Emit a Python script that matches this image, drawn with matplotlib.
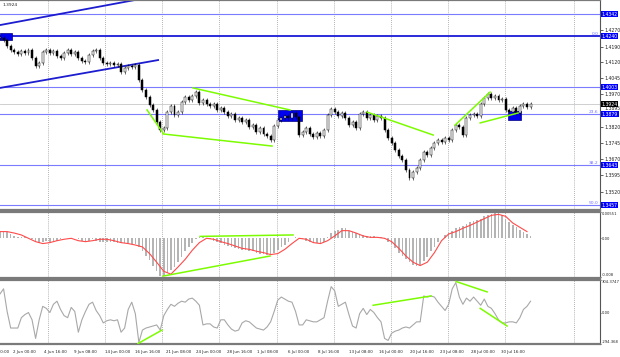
import matplotlib
matplotlib.use("Agg")
import matplotlib.pyplot as plt
import matplotlib.transforms as mtransforms
from matplotlib.patches import Rectangle
import numpy as np

# H4 closes, one candle every 2 bars
closes = [1.4231, 1.4222, 1.4194, 1.4176, 1.4166, 1.4157, 1.4171, 1.4162, 1.4176, 1.4138,
          1.4101, 1.4115, 1.4166, 1.4176, 1.4162, 1.4171, 1.4148, 1.4138, 1.4162, 1.4176,
          1.4157, 1.4166, 1.4138, 1.4125, 1.4120, 1.4152, 1.4171, 1.4176, 1.4138, 1.4115,
          1.4111, 1.4115, 1.4106, 1.4111, 1.4074, 1.4092, 1.4101, 1.4097, 1.4106, 1.4037,
          1.3990, 1.3958, 1.3921, 1.3898, 1.3842, 1.3805, 1.3814, 1.3888, 1.3916, 1.3875,
          1.3888, 1.3935, 1.3958, 1.3944, 1.3962, 1.3981, 1.3930, 1.3944, 1.3925, 1.3916,
          1.3925, 1.3898, 1.3907, 1.3888, 1.3870, 1.3879, 1.3851, 1.3860, 1.3842, 1.3851,
          1.3819, 1.3828, 1.3796, 1.3814, 1.3787, 1.3777, 1.3759, 1.3824, 1.3851, 1.3860,
          1.3870, 1.3860, 1.3884, 1.3865, 1.3782, 1.3796, 1.3814, 1.3787, 1.3773, 1.3791,
          1.3777, 1.3805, 1.3875, 1.3902, 1.3888, 1.3870, 1.3884, 1.3860, 1.3828, 1.3842,
          1.3814, 1.3879, 1.3888, 1.3860, 1.3875, 1.3851, 1.3870, 1.3860, 1.3805, 1.3768,
          1.3745, 1.3712, 1.3685, 1.3666, 1.3620, 1.3583, 1.3611, 1.3629, 1.3666, 1.3703,
          1.3689, 1.3722, 1.3745, 1.3759, 1.3750, 1.3768, 1.3759, 1.3805, 1.3828, 1.3819,
          1.3782, 1.3860, 1.3875, 1.3879, 1.3870, 1.3925, 1.3953, 1.3972, 1.3953, 1.3962,
          1.3944, 1.3949, 1.3898, 1.3888, 1.3907, 1.3884, 1.3916, 1.3925, 1.3911, 1.3924]

macd_hist = [0.0014, 0.0016, 0.0014, 0.0009, 0.0005, 0.0002, 0.0002, 0.0002, 0.0, -0.0002,
             -0.0007, -0.0009, -0.0007, -0.0005, -0.0007, -0.0007, -0.0005, -0.0002, 0.0, 0.0,
             0.0, 0.0, -0.0002, -0.0005, -0.0007, -0.0005, -0.0002, -0.0005, -0.0007, -0.0007,
             -0.0007, -0.0007, -0.0007, -0.0009, -0.0009, -0.0009, -0.0009, -0.0011, -0.0011, -0.0018,
             -0.0027, -0.0037, -0.0046, -0.0057, -0.0069, -0.0078, -0.0078, -0.0073, -0.0066, -0.0060,
             -0.0050, -0.0039, -0.0027, -0.0018, -0.0009, -0.0002, 0.0002, 0.0002, 0.0, -0.0002,
             -0.0005, -0.0007, -0.0009, -0.0014, -0.0016, -0.0018, -0.0021, -0.0023, -0.0025, -0.0025,
             -0.0027, -0.0027, -0.0030, -0.0032, -0.0032, -0.0034, -0.0034, -0.0030, -0.0025, -0.0018,
             -0.0014, -0.0007, 0.0, 0.0002, 0.0, -0.0002, -0.0005, -0.0007, -0.0009, -0.0009,
             -0.0009, -0.0007, 0.0002, 0.0011, 0.0016, 0.0018, 0.0021, 0.0021, 0.0016, 0.0014,
             0.0011, 0.0009, 0.0007, 0.0005, 0.0005, 0.0005, 0.0002, 0.0002, -0.0002, -0.0007,
             -0.0011, -0.0021, -0.0030, -0.0037, -0.0044, -0.0050, -0.0055, -0.0057, -0.0055, -0.0048,
             -0.0039, -0.0027, -0.0018, -0.0007, 0.0, 0.0007, 0.0011, 0.0016, 0.0021, 0.0023,
             0.0025, 0.0030, 0.0034, 0.0037, 0.0039, 0.0041, 0.0046, 0.0048, 0.0050, 0.0053,
             0.0053, 0.0048, 0.0041, 0.0034, 0.0027, 0.0023, 0.0018, 0.0014, 0.0009, 0.0005]

# signal line, one point every 4 bars
macd_signal = [0.0014, 0.0014, 0.0011, 0.0007, 0.0, -0.0007, -0.0011, -0.0009, -0.0005, -0.0002,
               0.0, -0.0005, -0.0007, -0.0005, -0.0002, -0.0002, -0.0005, -0.0009, -0.0011, -0.0014,
               -0.0018, -0.0032, -0.0050, -0.0069, -0.0075, -0.0060, -0.0044, -0.0025, -0.0009, 0.0,
               -0.0002, -0.0007, -0.0011, -0.0016, -0.0021, -0.0023, -0.0027, -0.0030, -0.0034, -0.0032,
               -0.0023, -0.0011, 0.0, -0.0002, -0.0009, -0.0011, -0.0005, 0.0005, 0.0016, 0.0016,
               0.0011, 0.0005, 0.0002, 0.0002, 0.0, -0.0007, -0.0021, -0.0037, -0.0050, -0.0057,
               -0.0050, -0.0030, -0.0005, 0.0009, 0.0014, 0.0021, 0.0027, 0.0034, 0.0041, 0.0048,
               0.0050, 0.0046, 0.0032, 0.0023, 0.0014]

cci = [174, 222, 10, -145, -145, -145, -48, -19, 0, -68,
       -242, -68, 58, 39, 0, 77, 106, 29, -29, -48,
       48, 10, -184, -68, 10, 77, 97, 19, -29, -97,
       -77, -68, -77, -68, -184, -145, 29, 97, -10, -280,
       -164, -145, -135, -126, -116, -164, -29, 29, 77, 58,
       87, 106, 97, 126, 135, 106, 68, -116, -106, -106,
       -135, -145, -68, -68, -116, -155, -174, -164, -97, -77,
       -87, -116, -145, -155, -164, -135, -87, 10, 116, 145,
       126, 106, 97, 10, -116, -116, -68, -77, -87, -87,
       -68, -48, 106, 242, 203, 58, 77, 97, -19, -126,
       -145, -10, 39, -19, 29, 0, -48, -87, -242, -261,
       -193, -174, -164, -145, -135, -145, -116, -87, -87, 155,
       145, 155, 145, 97, 58, 19, 77, 222, 280, 145,
       77, 135, 106, 145, 106, 68, 126, 58, 39, -10,
       -68, -97, -97, -87, -87, -97, -48, 29, 58, 106]

price_ticks = [1.4270, 1.4190, 1.4120, 1.4045, 1.3970, 1.3895, 1.3820, 1.3745, 1.3670, 1.3595, 1.3520]
blue_levels = [1.4342, 1.4240, 1.4003, 1.3879, 1.3643, 1.3457]
fib_levels = {1.4240: "0.0", 1.3879: "23.6", 1.3643: "38.2", 1.3457: "50.0"}
last_price = 1.3924

date_labels = ["28 May 00:00", "2 Jun 00:00", "4 Jun 16:00", "9 Jun 08:00", "14 Jun 00:00",
               "16 Jun 16:00", "21 Jun 08:00", "24 Jun 00:00", "28 Jun 16:00", "1 Jul 08:00",
               "6 Jul 00:00", "8 Jul 16:00", "13 Jul 08:00", "16 Jul 00:00", "20 Jul 16:00",
               "23 Jul 08:00", "28 Jul 00:00", "30 Jul 16:00"]
grid_bars = [27, 59, 91, 123, 155.5, 187.5, 219.5, 251.5, 283.5, 322.5]

# drawn objects (bar index, value)
channel_lines = [((0, 1.4291), (75.8, 1.4407)), ((0, 1.4000), (88.8, 1.4129))]
green_main = [((82.6, 1.3898), (91.6, 1.3791)), ((91.6, 1.3787), (152.8, 1.3731)),
              ((108.4, 1.4000), (162.9, 1.3898)), ((206.2, 1.3888), (243.3, 1.3782)),
              ((255.6, 1.3828), (275.3, 1.3981)), ((269.7, 1.3838), (291.0, 1.3884))]
blue_boxes = [((0, 1.4222), (6.7, 1.4254)), ((156.2, 1.3847), (169.7, 1.3898)),
              ((285.4, 1.3851), (292.7, 1.3893))]
green_macd = [((112.4, 0.0004), (164.6, 0.0007)), ((91.6, -0.0079), (151.7, -0.0037))]
green_cci = [((77.5, -290), (91.0, -164)), ((209.6, 68), (242.1, 155)),
             ((256.2, 290), (273.6, 193)), ((269.7, 39), (284.8, -126))]

NBARS = 337
x = np.arange(len(closes)) * 2
opens = [closes[0]] + closes[:-1]
WICK = 0.0009
FS = 3.3

W, H = 620, 357
fig = plt.figure(figsize=(6.2, 3.57), dpi=100)
fig.patch.set_facecolor("white")

def px_axes(top, bottom):
    return fig.add_axes([0, 1 - bottom / H, 600 / W, (bottom - top) / H])

ax1 = px_axes(0, 210)
ax2 = px_axes(212, 278)
ax3 = px_axes(280, 344)

for ax in (ax1, ax2, ax3):
    ax.set_xlim(0, NBARS)
    ax.set_facecolor("white")
    ax.spines["left"].set_visible(False)
    ax.spines["top"].set_color("#7a7a7a")
    ax.spines["bottom"].set_color("#7a7a7a")
    ax.spines["top"].set_linewidth(1.6)
    ax.spines["bottom"].set_linewidth(1.6)
    ax.spines["right"].set_color("#555555")
    ax.spines["right"].set_linewidth(0.8)
    ax.yaxis.tick_right()
    ax.tick_params(axis="y", length=2, width=0.5, labelsize=FS, pad=1, colors="#222222")
    ax.tick_params(axis="x", length=0, labelbottom=False)
    for g in grid_bars:
        ax.axvline(g, color="#9a9a9a", lw=0.6, ls=(0, (1, 1.5)), zorder=0)

# ---- main panel
ax1.set_ylim(1.3435, 1.4407)
ax1.set_yticks(price_ticks)
ax1.set_yticklabels([f"{p:.4f}" for p in price_ticks])
ax1.get_yticklabels()[5].set_va("bottom")
ax1.axhline(last_price, color="#c8c8c8", lw=0.6, zorder=1)
for lv in blue_levels:
    if lv == 1.4240:
        ax1.axhline(lv, color="#1a1ad8", lw=1.3, zorder=1)
    else:
        ax1.axhline(lv, color="#7b7bff", lw=0.8, zorder=1)
for (x0, y0), (x1, y1) in channel_lines:
    ax1.plot([x0, x1], [y0, y1], color="#1c1cd0", lw=1.3, zorder=2)
for (x0, y0), (x1, y1) in blue_boxes:
    ax1.add_patch(Rectangle((x0, y0), x1 - x0, y1 - y0, facecolor="#0000f0",
                            edgecolor="#000080", lw=0.5, zorder=2))

for xi, o, c in zip(x, opens, closes):
    lo, hi = min(o, c), max(o, c)
    ax1.vlines(xi, lo - WICK, hi + WICK, color="black", lw=0.4, zorder=3)
    body = max(hi - lo, 0.0003)
    ax1.bar(xi, body, bottom=lo, width=1.1, color="white" if c >= o else "black",
            edgecolor="black", linewidth=0.35, zorder=4)

for (x0, y0), (x1, y1) in green_main:
    ax1.plot([x0, x1], [y0, y1], color="#7cfc00", lw=1.1, zorder=5)

trans = mtransforms.blended_transform_factory(ax1.transAxes, ax1.transData)
for lv in blue_levels:
    ax1.text(1.003, lv, f"{lv:.4f}", transform=trans, fontsize=FS, color="white",
             va="center", ha="left", clip_on=False,
             bbox=dict(boxstyle="square,pad=0.12", fc="#0000ff", ec="none"))
ax1.text(1.003, last_price, f"{last_price:.4f}", transform=trans, fontsize=FS, color="white",
         va="center", ha="left", clip_on=False,
         bbox=dict(boxstyle="square,pad=0.12", fc="black", ec="none"))
for lv, name in fib_levels.items():
    ax1.text(NBARS - 1, lv, name, fontsize=3.2, color="#6e6eff", ha="right", va="bottom")
ax1.text(0.005, 0.985, f"{last_price:.4f}", transform=ax1.transAxes, fontsize=3.2,
         color="#222222", ha="left", va="top")

# ---- MACD panel
ax2.set_ylim(-0.0083, 0.0055)
ax2.set_yticks([0.0055, 0.0, -0.008])
ax2.set_yticklabels(["0.00551", "0.00", "-0.008"])
ax2.bar(x, macd_hist, width=0.9, color="#b4b4b4", zorder=2)
ax2.plot(np.arange(len(macd_signal)) * 4, macd_signal, color="#ff4a4a", lw=0.8, zorder=3)
for (x0, y0), (x1, y1) in green_macd:
    ax2.plot([x0, x1], [y0, y1], color="#7cfc00", lw=1.1, zorder=4)

# ---- CCI panel
ax3.set_ylim(-294.368, 304.3747)
ax3.set_yticks([304.3747, 0, -294.368])
ax3.set_yticklabels(["304.3747", "0.00", "-294.368"])
ax3.plot(x, cci, color="#a8a8a8", lw=0.8, zorder=2)
for (x0, y0), (x1, y1) in green_cci:
    ax3.plot([x0, x1], [y0, y1], color="#7cfc00", lw=1.1, zorder=4)

# keep edge labels inside their panel
for ax in (ax2, ax3):
    ax.tick_params(axis="y", labelsize=2.7, length=1, pad=0.4)
    labs = ax.get_yticklabels()
    labs[0].set_va("top")
    labs[-1].set_va("bottom")

# time axis labels
tr3 = mtransforms.blended_transform_factory(ax3.transData, ax3.transAxes)
for k, lab in enumerate(date_labels):
    xb = (13 + 30.5 * (k - 1)) / 1.78
    ax3.text(xb, -0.10, lab, transform=tr3, fontsize=2.9, color="#222222",
             ha="left", va="top", clip_on=False)

fig.savefig("out.png", dpi=100, facecolor="white")
